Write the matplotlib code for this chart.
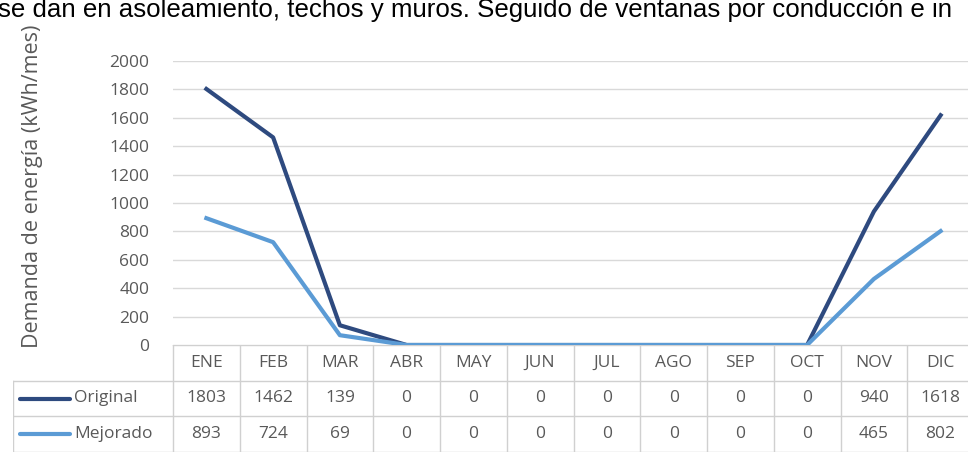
import matplotlib
matplotlib.use("Agg")
import matplotlib.pyplot as plt
import numpy as np

# ---- data ----
months = ["ENE", "FEB", "MAR", "ABR", "MAY", "JUN", "JUL", "AGO", "SEP", "OCT", "NOV", "DIC"]
original = [1803, 1462, 139, 0, 0, 0, 0, 0, 0, 0, 940, 1618]
mejorado = [893, 724, 69, 0, 0, 0, 0, 0, 0, 0, 465, 802]
series_names = ["Original", "Mejorado"]
yticks = [0, 200, 400, 600, 800, 1000, 1200, 1400, 1600, 1800, 2000]
ylabel = "Demanda de energía (kWh/mes)"
caption = "se dan en asoleamiento, techos y muros. Seguido de ventanas por conducción e in"

# ---- style ----
W, H = 968, 455
c_orig = "#2E4A7F"
c_mej = "#5B9BD5"
txt = "#595959"
grid = "#D9D9D9"
tline = "#D0D0D0"
FONT = ["Open Sans", "DejaVu Sans"]
fs = 12.5

fig = plt.figure(figsize=(W / 100, H / 100), dpi=100)

def fx(px):
    return px / W

def fy(py):
    return 1 - py / H

# plot area in pixel coordinates
L, R, T, B = 173, 974, 61, 345
ax = fig.add_axes([fx(L), fy(B), fx(R - L), fy(T) - fy(B)])
x = np.arange(len(months))
ax.plot(x, original, color=c_orig, lw=3.0, solid_joinstyle="round", zorder=3)
ax.plot(x, mejorado, color=c_mej, lw=3.0, solid_joinstyle="round", zorder=3)
ax.set_xlim(-0.5, len(months) - 0.5)
ax.set_ylim(0, 2000)
ax.set_yticks(yticks)
ax.set_yticklabels([str(v) for v in yticks], fontsize=fs, color=txt, family=FONT)
ax.tick_params(axis="y", length=0, pad=17)
ax.set_xticks([])
ax.grid(axis="y", color=grid, lw=1.0)
ax.set_axisbelow(True)
for s in ax.spines.values():
    s.set_visible(False)
ax.patch.set_alpha(0)

# y label
fig.text(fx(33), fy(348), ylabel, rotation=90, ha="center", va="bottom",
         fontsize=15.5, color=txt, family=FONT)

# caption (partly cut at the top, as in the source)
fig.text(fx(-2), fy(17), caption, ha="left", va="baseline", fontsize=18.6,
         color="#000000", family=["Liberation Sans", "DejaVu Sans"])

# ---- data table ----
TL, TT, TB = 13, 345, 452
colw = (R - L) / len(months)
legw = (L - TL) / colw
tax = fig.add_axes([fx(TL), fy(TB), fx(R - TL), fy(TT) - fy(TB)])
tax.set_xlim(-0.5 - legw, len(months) - 0.5)
tax.set_ylim(3, 0)
tax.axis("off")
# horizontal lines
tax.plot([-0.5, len(months) - 0.5], [0, 0], color=tline, lw=1)
for r in [1, 2, 3]:
    tax.plot([-0.5 - legw, len(months) - 0.5], [r, r], color=tline, lw=1)
# vertical lines
for i in range(len(months) + 1):
    tax.plot([i - 0.5, i - 0.5], [0, 3], color=tline, lw=1)
tax.plot([-0.5 - legw, -0.5 - legw], [1, 3], color=tline, lw=1)

for i, m in enumerate(months):
    tax.text(i, 0.5, m, ha="center", va="center", fontsize=fs, color=txt, family=FONT)
for r, (vals, col, name) in enumerate(zip([original, mejorado], [c_orig, c_mej], series_names), start=1):
    for i, v in enumerate(vals):
        tax.text(i, r + 0.5, str(v), ha="center", va="center", fontsize=fs, color=txt, family=FONT)
    x0 = -0.5 - legw + 7 / colw
    x1 = x0 + 50 / colw
    tax.plot([x0, x1], [r + 0.5, r + 0.5], color=col, lw=3.0, solid_capstyle="round")
    tax.text(x1 + 4 / colw, r + 0.5, name, ha="left", va="center", fontsize=fs, color=txt, family=FONT)

fig.savefig("out.png", dpi=100)
